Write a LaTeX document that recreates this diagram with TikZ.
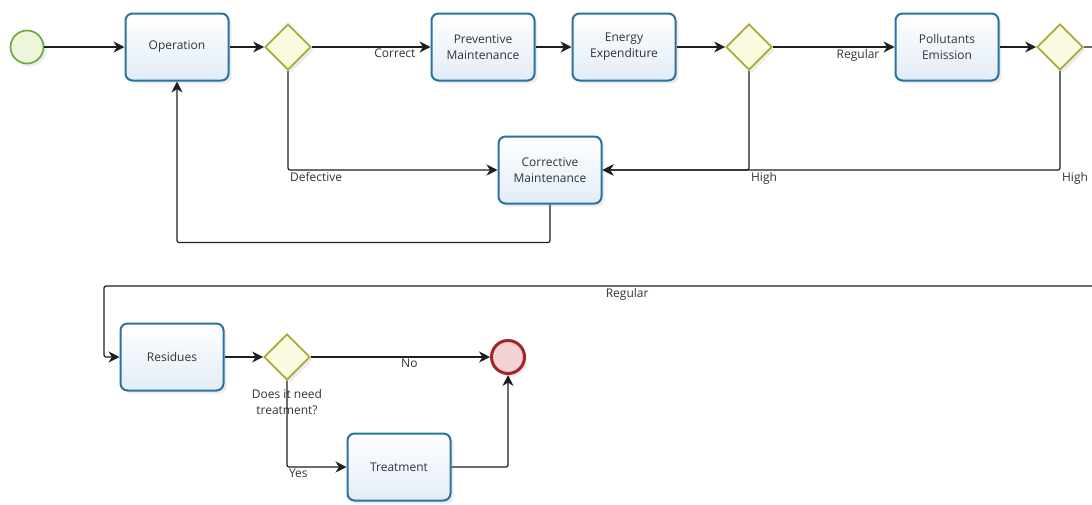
\documentclass[tikz,border=0pt]{standalone}
\usepackage{fontspec}
\setmainfont{Open Sans}
\usetikzlibrary{shapes.geometric,arrows.meta,shadows,positioning}

\definecolor{taskline}{HTML}{2A72A2}
\definecolor{taskfill}{HTML}{E2ECF7}
\definecolor{gateline}{HTML}{A9A839}
\definecolor{gatefill}{HTML}{FBFBE2}
\definecolor{startline}{HTML}{6BAA3D}
\definecolor{startfill}{HTML}{EDF5DA}
\definecolor{stopline}{HTML}{A52428}
\definecolor{stopfill}{HTML}{F3D3D6}
\definecolor{txt}{HTML}{333333}
\definecolor{wire}{HTML}{1E1E1E}

\begin{document}
\begin{tikzpicture} [x=1pt, y=-1pt, align=center, text=txt,
    font=\fontsize{12}{16}\selectfont,
    softshadow/.style={drop shadow={shadow xshift=3pt, shadow yshift=-3pt, opacity=0.15}},
    task/.style={draw=taskline, line width=2pt, rounded corners=7pt,
      top color=white, bottom color=taskfill, minimum width=103pt,
      minimum height=67pt, inner sep=2pt, softshadow},
    gate/.style={diamond, draw=gateline, fill=gatefill, line width=1.7pt,
      minimum width=46pt, minimum height=46pt, inner sep=0pt, softshadow},
    startev/.style={circle, draw=startline, fill=startfill, line width=1.7pt,
      minimum size=33pt, inner sep=0pt, softshadow},
    stopev/.style={circle, draw=stopline, fill=stopfill, line width=3pt,
      minimum size=33pt, inner sep=0pt, softshadow},
    flow/.style={draw=wire, line width=1.2pt, rounded corners=2pt,
      -{Stealth[length=11pt, width=11pt, inset=3.5pt]}},
    lbl/.style={inner sep=1.5pt}]
  \useasboundingbox (0,0) rectangle (1092,504);
  \clip (0,0) rectangle (1092,504);

  % upper row
  \path  (27,47)   node[startev](start) {}
          ++(150,0) node[task](op) {Operation}
          ++(111,0) node[gate](g1) {}
          ++(195,0) node[task](prev) {Preventive\\Maintenance}
          ++(141,0) node[task](energy) {Energy\\Expenditure}
          ++(125,0) node[gate](g2) {}
          ++(198,0) node[task](poll) {Pollutants\\Emission}
          ++(113,0) node[gate](g3) {};
  \path  (550,170) node[task](corr) {Corrective\\Maintenance};

  % lower row
  \path  (172,357) node[task](res) {Residues}
          ++(115,0) node[gate](g4) {}
          ++(221,0) node[stopev](stop) {}
         (399,467) node[task](treat) {Treatment};
  \node (ask) [below=5pt of g4.south] {Does it need\\treatment?};

  \coordinate (rgR) at (1110,286);
  \coordinate (rgL) at (104,286);

  \draw [flow] (start) to (op);
  \draw [flow] (op) to (g1);
  \draw [flow] (g1) to node [lbl,pos=0.7,below]{Correct} (prev);
  \draw [flow] (prev) to (energy);
  \draw [flow] (energy) to (g2);
  \draw [flow] (g2) to node [lbl,pos=0.7,below]{Regular} (poll);
  \draw [flow] (poll) to (g3);
  \draw [flow] (g1.south) |- node [lbl,pos=0.5,below right]{Defective} (corr.west);
  \draw [flow] (g2.south) |- node [lbl,pos=0.5,below right]{High} (corr.east);
  \draw [flow] (g3.south) |- node [lbl,pos=0.5,below right]{High} (corr.east);
  \draw [flow] (corr.south) -- ++(0,38) -| (op.south);
  \draw [flow] (g3.east) -| (rgR) -- node [lbl,pos=0.48,below]{Regular} (rgL) |- (res.west);
  \draw [flow] (res) to (g4);
  \draw [flow] (g4) to node [lbl,pos=0.55,below]{No} (stop);
  \draw [flow] (g4.south) |- node [lbl,pos=0.5,below right]{Yes} (treat.west);
  \draw [flow] (treat.east) -| (stop.south);
\end{tikzpicture}
\end{document}
